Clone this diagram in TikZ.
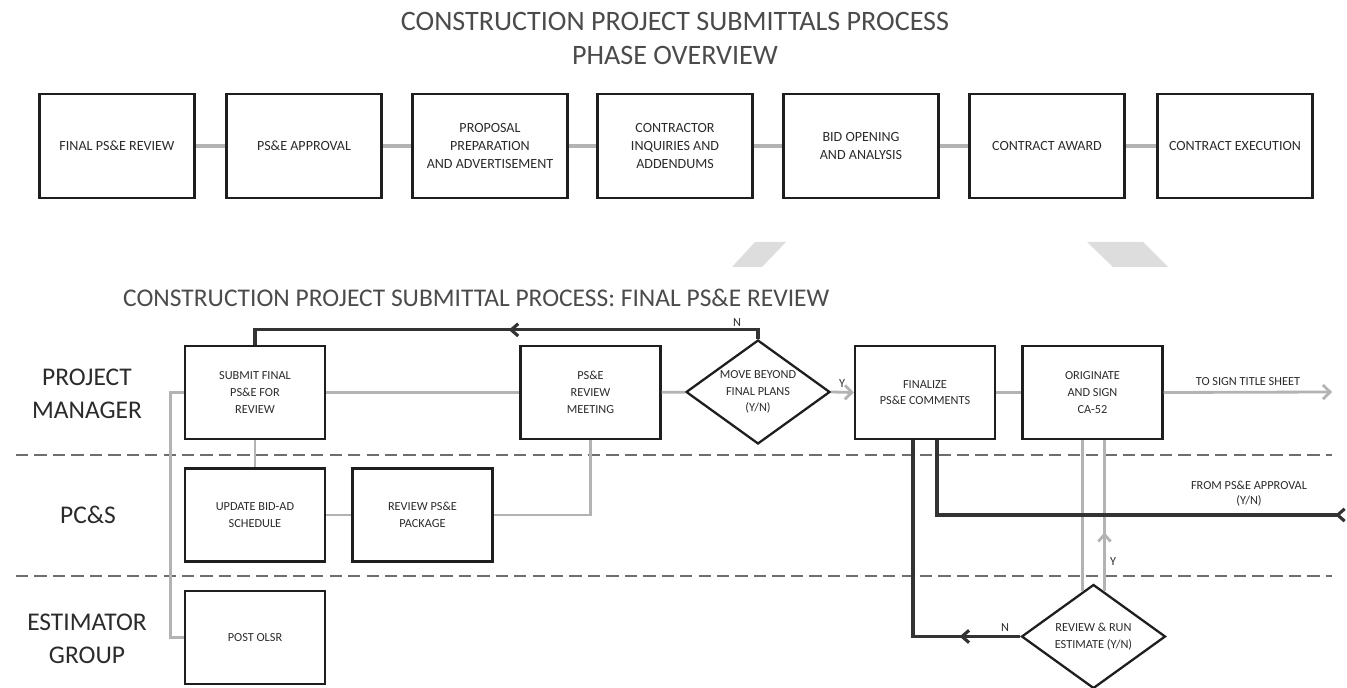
\documentclass[tikz,border=0pt]{standalone}
\usepackage{fontspec}
\setmainfont{Carlito}
\usetikzlibrary{shapes.geometric,arrows.meta,decorations.markings,calc}

\definecolor{boxline}{HTML}{1E1E1E}
\definecolor{linkgray}{HTML}{B3B3B3}
\definecolor{flowdark}{HTML}{333333}
\definecolor{lanegray}{HTML}{6E6E6E}
\definecolor{markgray}{HTML}{DDDDDD}
\definecolor{inkgray}{HTML}{2B2B2B}

\tikzset{
  phasebox/.style={draw=boxline, line width=1.3pt, minimum width=3.1cm, minimum height=2.08cm,
    inner sep=0pt, align=center, text=inkgray, font=\fontsize{8}{10}\selectfont},
  taskbox/.style={draw=boxline, line width=1.3pt, minimum width=2.8cm, minimum height=1.86cm,
    inner sep=0pt, align=center, text=inkgray, font=\fontsize{7}{9.5}\selectfont},
  decisionbox/.style={draw=boxline, line width=1.3pt, shape=diamond, aspect=1.385, minimum width=2.88cm,
    minimum height=2.08cm, inner sep=0pt, align=center, text=inkgray, font=\fontsize{7}{9.5}\selectfont},
  lanelabel/.style={align=center, text=inkgray, font=\fontsize{14.5}{18.7}\selectfont},
  titletext/.style={align=center, text=inkgray!85, font=\fontsize{16}{19.8}\selectfont},
  flowlabel/.style={align=center, text=inkgray, inner sep=1pt, font=\fontsize{7}{8.5}\selectfont},
  phaselink/.style={draw=linkgray, line width=2.2pt},
  graylink/.style={draw=linkgray, line width=1.6pt},
  darklink/.style={draw=flowdark, line width=1.8pt},
  lanesep/.style={draw=lanegray, line width=1pt, dash pattern=on 7pt off 3.5pt},
  grayhead/.style={-{Straight Barb[length=4pt,width=8pt]}},
  midhead/.style={postaction={decorate}, decoration={markings,
    mark=at position #1 with {\arrow{Straight Barb[length=4pt,width=7pt]}}}},
}

\begin{document}
\begin{tikzpicture}[x=0.02cm, y=-0.02cm]
\useasboundingbox (0,0) rectangle (1347,688);

% phase overview
\node[titletext] (overview) at (675,38.5) {CONSTRUCTION PROJECT SUBMITTALS PROCESS\\PHASE OVERVIEW};

\node[phasebox] (fpr) at (117,146) {FINAL PS\&E REVIEW};
\node[phasebox] (psa) at (304,146) {PS\&E APPROVAL};
\node[phasebox] (ppa) at (490,146) {PROPOSAL\\PREPARATION\\AND ADVERTISEMENT};
\node[phasebox] (cia) at (675,146) {CONTRACTOR\\INQUIRIES AND\\ADDENDUMS};
\node[phasebox] (boa) at (861,146) {BID OPENING\\AND ANALYSIS};
\node[phasebox] (caw) at (1047,146) {CONTRACT AWARD};
\node[phasebox] (cex) at (1235,146) {CONTRACT EXECUTION};

\draw[phaselink] (fpr) -- (psa);
\draw[phaselink] (psa) -- (ppa);
\draw[phaselink] (ppa) -- (cia);
\draw[phaselink] (cia) -- (boa);
\draw[phaselink] (boa) -- (caw);
\draw[phaselink] (caw) -- (cex);

% grey marks
\fill[markgray] (755,242) -- (786,242) -- (762,267) -- (732,267) -- cycle;
\fill[markgray] (1087,242) -- (1143,242) -- (1168,267) -- (1113,267) -- cycle;

% final ps&e review lanes
\node[titletext, anchor=west, font=\fontsize{14.5}{18}\selectfont] (detail) at (117,298)
  {CONSTRUCTION PROJECT SUBMITTAL PROCESS: FINAL PS\&E REVIEW};

\draw[lanesep] (16,455) -- (1332,455);
\draw[lanesep] (16,576) -- (1332,576);

\node[lanelabel] (pm) at (87,393.5) {PROJECT\\MANAGER};
\node[lanelabel] (pcs) at (88,515) {PC\&S};
\node[lanelabel] (est) at (87,638.5) {ESTIMATOR\\GROUP};

\node[taskbox] (submit) at (255,392.5) {SUBMIT FINAL\\PS\&E FOR\\REVIEW};
\node[taskbox] (meeting) at (590.5,392.5) {PS\&E\\REVIEW\\MEETING};
\node[decisionbox] (beyond) at (758,392) {MOVE BEYOND\\FINAL PLANS\\(Y/N)};
\node[taskbox] (finalize) at (925,392.5) {FINALIZE\\PS\&E COMMENTS};
\node[taskbox] (originate) at (1092.5,392.5) {ORIGINATE\\AND SIGN\\CA-52};
\node[taskbox] (bidad) at (255,515) {UPDATE BID-AD\\SCHEDULE};
\node[taskbox] (package) at (422.5,515) {REVIEW PS\&E\\PACKAGE};
\node[taskbox] (olsr) at (255,637.5) {POST OLSR};
\node[decisionbox] (estimate) at (1093.5,636.5) {REVIEW \& RUN\\ESTIMATE (Y/N)};

\coordinate (tosign) at (1332,392);
\coordinate (fromapp) at (1340,515);

% grey flow
\draw[graylink] (submit.west) -- ++(-13,0) |- (olsr.west);
\draw[graylink] (submit) -- (bidad);
\draw[graylink] (bidad) -- (package);
\draw[graylink] (package.east) -| (meeting.south);
\draw[graylink] (submit) -- (meeting);
\draw[graylink] (meeting) -- (beyond);
\draw[graylink, grayhead] (beyond.east) -- (finalize.west);
\draw[graylink] (finalize) -- (originate);
\draw[graylink, grayhead] (originate.east) -- (tosign);
\draw[graylink] ($(estimate.north)!0.15!(estimate.west)$) coordinate (runleft)
  -- (runleft |- originate.south);
\draw[graylink, midhead=0.39] ($(estimate.north)!0.15!(estimate.east)$) coordinate (runright)
  -- (runright |- originate.south);

% dark flow
\draw[darklink, midhead=0.49] (beyond.north) -- ++(0,-9) -| (submit.north);
\draw[darklink, midhead=0.2] (estimate.west) -| ($(finalize.south)+(-12,0)$);
\draw[darklink, midhead=0.01] (fromapp) -| ($(finalize.south)+(12,0)$);

% labels
\node[flowlabel, anchor=south] (nbeyond) at (737,329) {N};
\node[flowlabel, anchor=south] (ybeyond) at (842,390) {Y};
\node[flowlabel, anchor=south] (signlbl) at (1248,388) {TO SIGN TITLE SHEET};
\node[flowlabel] (fromlbl) at (1249,494) {FROM PS\&E APPROVAL\\(Y/N)};
\node[flowlabel, anchor=south] (nrun) at (1005,634) {N};
\node[flowlabel, anchor=west] (yrun) at (1108,562) {Y};
\end{tikzpicture}
\end{document}
